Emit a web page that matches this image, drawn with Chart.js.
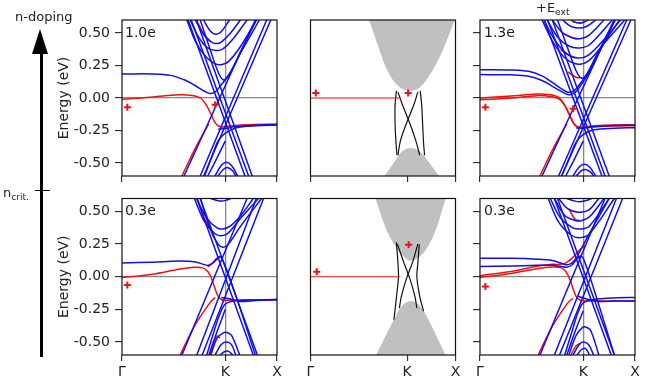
<!DOCTYPE html>
<html>
<head>
<meta charset="utf-8">
<script src="https://cdn.jsdelivr.net/npm/chart.js@4.4.1/dist/chart.umd.min.js"></script>
<style>
body { margin: 0; background: #fff; }
#fig { position: relative; width: 645px; height: 380px; overflow: hidden; font-family: 'DejaVu Sans', sans-serif; color: #222; }
#fig canvas { position: absolute; left: 0; top: 0; }
.lab { position: absolute; white-space: nowrap; line-height: 1; }
.lab sub { font-size: 70%; vertical-align: -3px; line-height: 0; }
</style>
</head>
<body>
<div id="fig">
  <canvas id="pA" width="645" height="380"></canvas>
  <canvas id="pB" width="645" height="380"></canvas>
  <canvas id="pC" width="645" height="380"></canvas>
  <canvas id="pD" width="645" height="380"></canvas>
  <canvas id="pE" width="645" height="380"></canvas>
  <canvas id="pF" width="645" height="380"></canvas>

  <!-- doping arrow -->
  <div style="position:absolute;left:39.5px;top:50px;width:3.2px;height:307px;background:#000"></div>
  <div style="position:absolute;left:32.4px;top:29px;width:0;height:0;border-left:8.7px solid transparent;border-right:8.7px solid transparent;border-bottom:25px solid #000"></div>
  <div style="position:absolute;left:34.5px;top:190px;width:15.5px;height:1.3px;background:#000"></div>
  <div class="lab" style="left:15px;top:9.7px;font-size:13px">n-doping</div>
  <div class="lab" style="left:3px;top:185.5px;font-size:13px">n<sub>crit.</sub></div>
  <div class="lab" style="left:536px;top:1.3px;font-size:13px">+E<sub>ext</sub></div>

  <div class="lab" style="left:125px;top:25px;font-size:14px">1.0e</div>
  <div class="lab" style="left:484px;top:25px;font-size:14px">1.3e</div>
  <div class="lab" style="left:125px;top:203px;font-size:14px">0.3e</div>
  <div class="lab" style="left:484px;top:203px;font-size:14px">0.3e</div>
</div>

<script>
// k-path ticks and energy ticks
const xTickPos = [0, 1, 1.5];
const xTickLabels = ['Γ', 'K', 'X'];
const yTickPos = [-0.5, -0.25, 0, 0.25, 0.5];

// ---- panel A: 1.0e ----
const bluesA = [
  [[0,0.185],[0.3,0.185],[0.47,0.174],[0.6,0.14],[0.7,0.1],[0.79,0.056],[0.85,0.035],[0.9,0.045],[0.95,0.09],[1.05,0.2],[1.15,0.36],[1.3,0.6]],
  [[0.79,0.6],[0.85,0.52],[0.905,0.49],[0.96,0.51],[1.04,0.6]],
  [[0.71,0.6],[0.78,0.5],[0.85,0.44],[0.9,0.42],[0.96,0.43],[1.05,0.5],[1.145,0.6]],
  [[0.66,0.6],[0.74,0.47],[0.82,0.39],[0.91,0.365],[0.98,0.38],[1.08,0.46],[1.21,0.6]],
  [[0.627,0.6],[0.72,0.42],[0.82,0.31],[0.9,0.265],[0.96,0.256],[1.03,0.28],[1.15,0.4],[1.3,0.6]],
  [[0.757,0.6],[0.85,0.38],[0.93,0.2],[0.98,0.14],[1.03,0.17],[1.15,0.35],[1.33,0.6]],
  [[0.64,0.6],[1.19,-0.6]],
  [[0.67,0.6],[1.225,-0.6]],
  [[0.72,0.6],[1.26,-0.6]],
  [[0.6,-0.6],[1.29,0.6]],
  [[0.757,-0.6],[1.4,0.6]],
  [[0.79,-0.6],[1.44,0.6]],
  [[0.8,-0.6],[0.87,-0.45],[0.93,-0.33],[1.0,-0.27],[1.1,-0.23],[1.3,-0.213],[1.5,-0.208]],
  [[0.93,-0.24],[1.0,-0.235],[1.1,-0.22],[1.3,-0.21],[1.5,-0.205]],
  [[1.0,-0.33],[0.92,-0.46],[0.83,-0.6]],
  [[0.9,-0.6],[0.96,-0.52],[1.01,-0.495],[1.06,-0.52],[1.12,-0.6]],
  [[0.93,-0.6],[0.98,-0.55],[1.02,-0.535],[1.07,-0.56],[1.1,-0.6]]
];
const redsA = [
  [[0,-0.01],[0.3,0.008],[0.55,0.025],[0.68,0.02],[0.76,0.0],[0.82,-0.06],[0.87,-0.14],[0.91,-0.2],[0.96,-0.222],[1.05,-0.215],[1.2,-0.205],[1.5,-0.2]],
  [[0.579,-0.6],[0.72,-0.37],[0.84,-0.2]],
  [[0.72,0.6],[0.8,0.48],[0.86,0.43]]
];
const marksA = [[0.052,-0.072],[0.902,-0.051]];

// ---- panel C: 1.3e with field ----
const bluesC = [
  [[0,0.218],[0.3,0.216],[0.47,0.205],[0.6,0.17],[0.7,0.12],[0.79,0.07],[0.85,0.045],[0.9,0.05],[0.95,0.09],[1.05,0.2],[1.15,0.36],[1.3,0.6]],
  [[0,0.18],[0.3,0.178],[0.47,0.168],[0.6,0.135],[0.7,0.09],[0.8,0.045],[0.86,0.025],[0.91,0.035],[0.96,0.08],[1.06,0.2],[1.17,0.38],[1.31,0.6]],
  [[0.88,0.6],[0.93,0.58],[0.97,0.577],[1.01,0.585],[1.05,0.6]],
  [[0.8,0.6],[0.87,0.555],[0.95,0.538],[1.03,0.55],[1.12,0.6]],
  [[0.7,0.6],[0.8,0.5],[0.9,0.462],[0.97,0.456],[1.05,0.48],[1.2,0.6]],
  [[0.65,0.6],[0.75,0.47],[0.86,0.4],[0.96,0.385],[1.06,0.41],[1.28,0.6]],
  [[0.62,0.6],[0.72,0.45],[0.84,0.34],[0.95,0.308],[1.05,0.33],[1.2,0.45],[1.36,0.6]],
  [[0.6,0.6],[0.7,0.44],[0.82,0.31],[0.95,0.26],[1.05,0.285],[1.2,0.42],[1.4,0.6]],
  [[0.75,0.6],[0.85,0.38],[0.93,0.21],[0.98,0.154],[1.03,0.18],[1.15,0.36],[1.35,0.6]],
  [[0.62,0.6],[1.18,-0.6]],
  [[0.655,0.6],[1.21,-0.6]],
  [[0.7,0.6],[1.25,-0.6]],
  [[0.6,-0.6],[1.3,0.6]],
  [[0.76,-0.6],[1.42,0.6]],
  [[0.79,-0.6],[1.46,0.6]],
  [[0.79,-0.6],[0.87,-0.45],[0.93,-0.34],[1.0,-0.28],[1.1,-0.245],[1.3,-0.232],[1.5,-0.228]],
  [[0.93,-0.23],[1.0,-0.232],[1.1,-0.22],[1.3,-0.212],[1.5,-0.208]],
  [[1.0,-0.33],[0.92,-0.46],[0.83,-0.6]],
  [[0.9,-0.6],[0.96,-0.53],[1.01,-0.51],[1.06,-0.53],[1.12,-0.6]],
  [[0.93,-0.6],[0.98,-0.56],[1.02,-0.55],[1.07,-0.57],[1.1,-0.6]]
];
const redsC = [
  [[0,0],[0.3,0.015],[0.55,0.03],[0.68,0.025],[0.76,0.005],[0.82,-0.055],[0.87,-0.14],[0.91,-0.2],[0.96,-0.225],[1.05,-0.218],[1.2,-0.21],[1.5,-0.205]],
  [[0,-0.014],[0.3,0.0],[0.55,0.018],[0.68,0.012],[0.77,-0.01],[0.83,-0.07],[0.88,-0.15],[0.92,-0.21],[0.97,-0.232],[1.05,-0.226],[1.2,-0.218],[1.5,-0.213]],
  [[0.579,-0.6],[0.72,-0.37],[0.84,-0.2]],
  [[0.9,0.585],[0.97,0.577],[1.0,0.582]],
  [[0.8,0.5],[0.9,0.462],[0.95,0.456]],
  [[0.78,0.37],[0.86,0.33],[0.92,0.31]],
  [[0.85,0.2],[0.93,0.16],[0.97,0.155]]
];
const marksC = [[0.052,-0.072],[0.902,-0.082]];

// ---- panel D: 0.3e ----
const bluesD = [
  [[0,0.105],[0.3,0.112],[0.55,0.12],[0.7,0.115],[0.78,0.097],[0.83,0.087],[0.87,0.1],[0.91,0.135],[0.95,0.155],[0.99,0.1],[1.1,-0.14],[1.29,-0.6]],
  [[0.86,0.6],[0.92,0.585],[0.97,0.58],[1.02,0.59],[1.05,0.6]],
  [[0.72,0.6],[0.82,0.45],[0.92,0.375],[0.98,0.367],[1.05,0.39],[1.15,0.47],[1.27,0.6]],
  [[0.7,0.6],[0.8,0.42],[0.9,0.33],[0.95,0.315],[1.02,0.33],[1.15,0.45],[1.32,0.6]],
  [[0.76,0.6],[0.85,0.37],[0.93,0.25],[0.98,0.226],[1.03,0.25],[1.15,0.39],[1.35,0.6]],
  [[0.724,0.6],[1.27,-0.6]],
  [[0.757,0.6],[1.31,-0.6]],
  [[0.58,-0.6],[1.21,0.6]],
  [[0.724,-0.6],[1.3,0.6]],
  [[0.776,-0.6],[1.37,0.6]],
  [[0.82,-0.6],[0.89,-0.42],[0.95,-0.28],[1.0,-0.21],[1.1,-0.185],[1.3,-0.178],[1.5,-0.175]],
  [[0.96,-0.16],[1.05,-0.17],[1.15,-0.19],[1.3,-0.182],[1.5,-0.178]],
  [[1.0,-0.25],[0.92,-0.42],[0.84,-0.6]],
  [[0.86,-0.6],[0.92,-0.47],[0.98,-0.43],[1.015,-0.428],[1.06,-0.45],[1.14,-0.6]],
  [[0.9,-0.6],[0.96,-0.52],[1.01,-0.5],[1.06,-0.52],[1.1,-0.6]],
  [[0.95,-0.6],[0.99,-0.575],[1.03,-0.57],[1.07,-0.6]]
];
const redsD = [
  [[0,-0.005],[0.3,0.02],[0.55,0.058],[0.7,0.072],[0.78,0.068],[0.83,0.04],[0.87,-0.02],[0.9,-0.09],[0.93,-0.15],[0.97,-0.178],[1.05,-0.18],[1.2,-0.178],[1.5,-0.175]],
  [[0.83,0.075],[0.9,0.12],[0.95,0.158]],
  [[0.563,-0.6],[0.7,-0.38],[0.85,-0.2],[0.9,-0.16]],
  [[0.85,-0.6],[0.9,-0.48],[0.92,-0.455],[0.95,-0.47]],
  [[0.73,0.6],[0.8,0.44],[0.87,0.35]]
];
const marksD = [[0.052,-0.064]];

// ---- panel F: 0.3e with field ----
const bluesF = [
  [[0,0.141],[0.3,0.141],[0.55,0.135],[0.7,0.125],[0.78,0.105],[0.84,0.092],[0.88,0.1],[0.92,0.13],[0.97,0.2],[1.05,0.32],[1.15,0.46],[1.25,0.6]],
  [[0,0.078],[0.3,0.082],[0.55,0.088],[0.7,0.088],[0.78,0.08],[0.84,0.073],[0.89,0.09],[0.94,0.14],[0.98,0.16],[1.02,0.1],[1.12,-0.14],[1.3,-0.6]],
  [[0.84,0.6],[0.92,0.58],[0.97,0.575],[1.03,0.585],[1.08,0.6]],
  [[0.76,0.6],[0.85,0.52],[0.95,0.495],[1.05,0.51],[1.15,0.6]],
  [[0.72,0.6],[0.82,0.47],[0.92,0.432],[0.98,0.43],[1.06,0.46],[1.2,0.6]],
  [[0.68,0.6],[0.78,0.45],[0.9,0.375],[0.98,0.367],[1.06,0.39],[1.25,0.6]],
  [[0.66,0.6],[0.76,0.42],[0.88,0.32],[0.97,0.3],[1.06,0.33],[1.3,0.6]],
  [[0.72,0.6],[1.27,-0.6]],
  [[0.75,0.6],[1.3,-0.6]],
  [[0.58,-0.6],[1.21,0.6]],
  [[0.72,-0.6],[1.32,0.6]],
  [[0.77,-0.6],[1.38,0.6]],
  [[0.82,-0.6],[0.89,-0.42],[0.95,-0.27],[1.0,-0.2],[1.1,-0.175],[1.3,-0.162],[1.5,-0.159]],
  [[0.95,-0.15],[1.03,-0.17],[1.15,-0.19],[1.3,-0.186],[1.5,-0.185]],
  [[1.0,-0.26],[0.92,-0.42],[0.84,-0.6]],
  [[0.86,-0.6],[0.93,-0.45],[0.99,-0.39],[1.02,-0.385],[1.07,-0.41],[1.15,-0.6]],
  [[0.9,-0.6],[0.96,-0.52],[1.0,-0.5],[1.05,-0.52],[1.1,-0.6]],
  [[0.94,-0.6],[0.98,-0.56],[1.02,-0.55],[1.06,-0.6]]
];
const redsF = [
  [[0,-0.005],[0.3,0.025],[0.55,0.062],[0.7,0.075],[0.78,0.07],[0.83,0.04],[0.87,-0.02],[0.9,-0.09],[0.93,-0.15],[0.97,-0.18],[1.05,-0.185],[1.2,-0.185],[1.5,-0.185]],
  [[0,0.008],[0.3,0.04],[0.55,0.08],[0.7,0.095],[0.78,0.095],[0.84,0.11],[0.9,0.15],[0.97,0.21],[1.02,0.24]],
  [[0.563,-0.6],[0.7,-0.38],[0.85,-0.2],[0.9,-0.165]],
  [[0.88,-0.6],[0.93,-0.53],[0.97,-0.51]],
  [[0.86,0.52],[0.92,0.44],[0.96,0.432]]
];
const marksF = [[0.052,-0.074]];

// ---- panel B: model, 1.0e ----
const coneUpB = [[0.605,0.6],[0.7,0.4],[0.782,0.231],[0.86,0.13],[0.95,0.07],[1.041,0.056],[1.12,0.075],[1.2,0.14],[1.332,0.308],[1.494,0.6]];
const coneLowB = [[0.766,-0.6],[0.86,-0.5],[0.95,-0.41],[1.041,-0.385],[1.13,-0.41],[1.23,-0.5],[1.33,-0.6]];
const edgeB = [
  [[0.889,0.056],[0.875,-0.05],[0.875,-0.2],[0.885,-0.35],[0.895,-0.44]],
  [[0.905,0.045],[0.95,-0.05],[1.03,-0.2],[1.09,-0.33],[1.13,-0.44]],
  [[1.11,0.045],[1.07,-0.05],[0.99,-0.2],[0.93,-0.33],[0.905,-0.44]],
  [[1.135,0.056],[1.15,-0.05],[1.16,-0.2],[1.17,-0.35],[1.18,-0.44]]
];
const fermiB = [[0,0],[0.935,0]];
const marksB = [[0.055,0.038],[1.01,0.038]];

// ---- panel E: model, 0.3e ----
const coneUpE = [[0.673,0.6],[0.782,0.367],[0.895,0.213],[0.97,0.15],[1.041,0.123],[1.12,0.15],[1.2,0.213],[1.3,0.367],[1.397,0.6]];
const coneLowE = [[0.679,-0.6],[0.847,-0.351],[0.95,-0.22],[1.041,-0.185],[1.13,-0.22],[1.235,-0.351],[1.397,-0.6]];
const edgeE = [
  [[0.889,0.264],[0.905,0.1],[0.91,0.0],[0.89,-0.15],[0.863,-0.33]],
  [[0.9,0.25],[0.96,0.12],[1.03,-0.02],[1.08,-0.15],[1.1,-0.24]],
  [[1.11,0.25],[1.06,0.12],[0.99,-0.02],[0.94,-0.15],[0.92,-0.24]],
  [[1.125,0.25],[1.11,0.1],[1.1,0.0],[1.13,-0.15],[1.17,-0.265]]
];
const fermiE = [[0,0],[0.93,0]];
const marksE = [[0.065,0.038],[1.015,0.246]];

const BLUE = '#1010e8', RED = '#f01010', GREY = '#888888', CONE = '#c0c0c0';
Chart.defaults.font.family = "'DejaVu Sans', sans-serif";

function line(pts, color, w) {
  return { data: pts, borderColor: color, borderWidth: w, pointRadius: 0, tension: 0.35, fill: false, clip: 0 };
}
function marks(pts) {
  return { data: pts, showLine: false, pointStyle: 'cross', pointRadius: 3.5,
           pointBorderColor: RED, pointBorderWidth: 2, clip: 0 };
}
function cone(pts, side) {
  return { data: pts, borderWidth: 0, pointRadius: 0, tension: 0.35, fill: side, backgroundColor: CONE, clip: 0 };
}
function bandSets(blues, reds, mk) {
  // first dataset is drawn on top
  return [marks(mk)]
    .concat(blues.map(p => line(p, BLUE, 1.5)))
    .concat(reds.map(p => line(p, RED, 1.5)));
}
function modelSets(edges, fermi, mk, up, low) {
  return [marks(mk), line(fermi, RED, 1.2)]
    .concat(edges.map(p => line(p, '#111', 1.2)))
    .concat([cone(up, 'end'), cone(low, 'start')]);
}

const framePlugin = {
  id: 'frame',
  afterDraw(chart) {
    const a = chart.chartArea, c = chart.ctx;
    c.save();
    c.strokeStyle = '#111';
    c.lineWidth = 1.2;
    c.strokeRect(a.left, a.top, a.right - a.left, a.bottom - a.top);
    c.restore();
  }
};

function makePanel(id, box, o, datasets) {
  const [l, t, r, b] = box;
  const yW = o.yTitle ? 66.4 : 10;
  const xH = 22;
  return new Chart(document.getElementById(id), {
    type: 'line',
    data: { datasets: datasets },
    options: {
      responsive: false, animation: false, devicePixelRatio: 1, events: [],
      layout: { padding: { left: o.yAxis ? l - yW : l, top: t, right: 645 - r, bottom: 380 - b - xH } },
      plugins: { legend: { display: false }, tooltip: { enabled: false } },
      scales: {
        x: {
          type: 'linear', min: 0, max: 1.5,
          border: { display: false },
          afterBuildTicks: s => { s.ticks = xTickPos.map(v => ({ value: v })); },
          afterFit: s => { s.height = xH; s.paddingLeft = 0; s.paddingRight = 0; },
          grid: {
            color: c => (o.refLines && c.tick && c.tick.value === 1) ? GREY : 'rgba(0,0,0,0)',
            lineWidth: 1.3, tickColor: '#111', tickLength: 6, tickWidth: 1
          },
          ticks: { autoSkip: false, maxRotation: 0, padding: 3, color: '#222', font: { size: 14 },
                   callback: (v, i) => o.xLabels ? xTickLabels[i] : '' }
        },
        y: {
          type: 'linear', min: -0.6, max: 0.6, display: o.yAxis,
          border: { display: false },
          afterBuildTicks: s => { s.ticks = yTickPos.map(v => ({ value: v })); },
          afterFit: s => { s.width = yW; s.paddingTop = 0; s.paddingBottom = 0; },
          grid: {
            color: c => (o.refLines && c.tick && c.tick.value === 0) ? GREY : 'rgba(0,0,0,0)',
            lineWidth: 1.3, tickColor: '#111', tickLength: 7, tickWidth: 1
          },
          ticks: { padding: 5, color: '#222', font: { size: 14 },
                   callback: v => o.yTitle ? v.toFixed(2) : '' },
          title: { display: o.yTitle, text: 'Energy (eV)', color: '#222', font: { size: 14 },
                   padding: { top: 0, bottom: 0 } }
        }
      }
    },
    plugins: [framePlugin]
  });
}

makePanel('pA', [122, 20, 277, 176], { yAxis: true, yTitle: true, refLines: true, xLabels: false }, bandSets(bluesA, redsA, marksA));
makePanel('pB', [300.5, 20, 455.5, 176], { yAxis: false, yTitle: false, refLines: false, xLabels: false }, modelSets(edgeB, fermiB, marksB, coneUpB, coneLowB));
makePanel('pC', [480, 20, 635, 176], { yAxis: true, yTitle: false, refLines: true, xLabels: false }, bandSets(bluesC, redsC, marksC));
makePanel('pD', [122, 198.5, 277, 355], { yAxis: true, yTitle: true, refLines: true, xLabels: true }, bandSets(bluesD, redsD, marksD));
makePanel('pE', [300.5, 198.5, 455.5, 355], { yAxis: false, yTitle: false, refLines: false, xLabels: true }, modelSets(edgeE, fermiE, marksE, coneUpE, coneLowE));
makePanel('pF', [480, 198.5, 635, 355], { yAxis: true, yTitle: false, refLines: true, xLabels: true }, bandSets(bluesF, redsF, marksF));
</script>
</body>
</html>
